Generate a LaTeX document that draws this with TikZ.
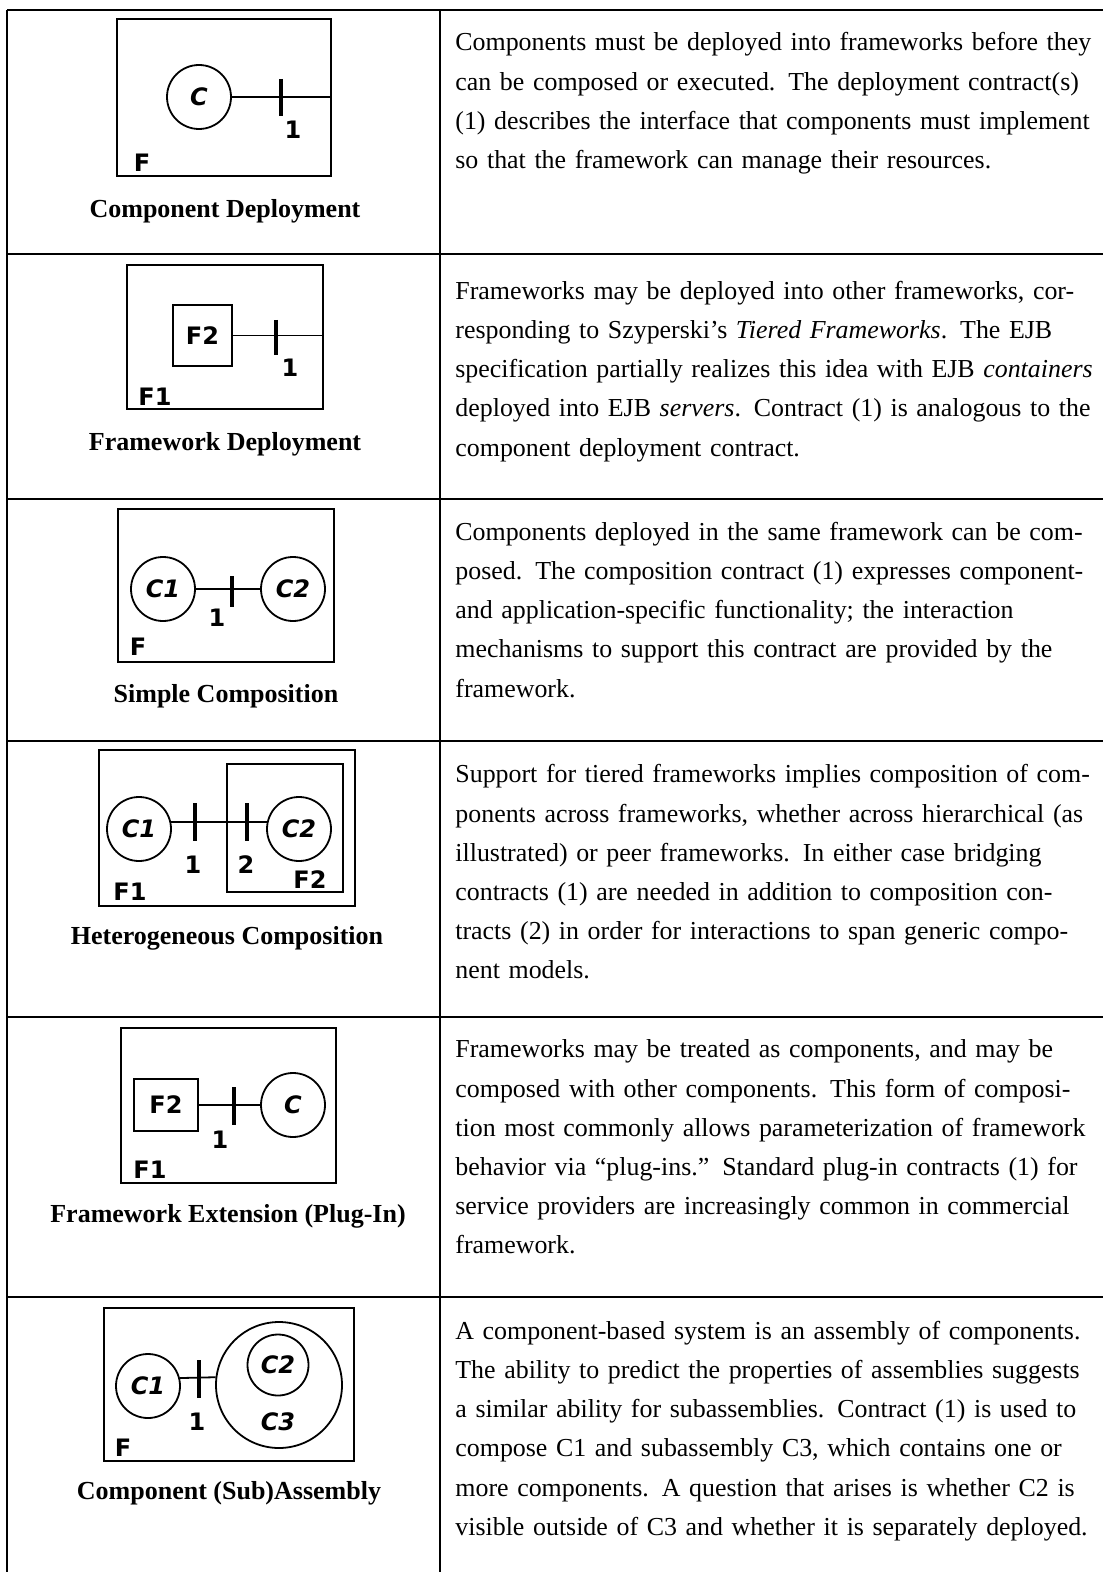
\documentclass[tikz,border=0pt]{standalone}
\usepackage{fontspec}
\setmainfont{Liberation Serif}
\newfontfamily\diagfont{DejaVu Sans}
\usetikzlibrary{calc}
\begin{document}
\begin{tikzpicture}[x=0.5pt,y=-0.5pt,
  tline/.style={line width=1pt},
  fwbox/.style={draw, line width=1pt, inner sep=0},
  comp/.style={circle, draw, line width=0.9pt, inner sep=0, minimum size=32pt,
    font=\diagfont\bfseries\itshape\fontsize{12}{12}\selectfont},
  lbl/.style={inner sep=0, font=\diagfont\bfseries\fontsize{12}{12}\selectfont},
  wire/.style={line width=0.9pt},
  contract/.style={line width=2pt},
  caption/.style={inner sep=0, font=\bfseries\fontsize{13}{15}\selectfont},
  desc/.style={anchor=north west, inner sep=0, align=left, text width=330pt,
    font=\fontsize{12.95}{19.6}\selectfont}]
\useasboundingbox (0,0) rectangle (1103,1572);

% ---------- table ----------
\draw[tline] (7,10) -- (1103,10);
\draw[tline] (7,10) -- (7,1572);
\draw[tline] (440,10) -- (440,1572);
\foreach \yy in {254,499,741,1017,1297}
  \draw[tline] (7,\yy) -- (1103,\yy);

% ---------- row 1: Component Deployment ----------
\node[fwbox, minimum width=107pt, minimum height=78.5pt] (fa) at (224,97.5) {};
\node[comp] (ca) at (199,97) {C};
\draw[wire] (ca.east) -- (ca.east -| fa.east);
\coordinate (ka) at (281,97);
\draw[contract] (ka) ++(0,-18) -- ++(0,37);
\node[lbl] (na) at (293,130) {1};
\node[lbl] (la) at (142,163) {F};
\node[caption] (cpa) at (225,211) {Component Deployment};
\node[desc] (da) at (455,23) {\strut Components must be deployed into frameworks before they\\
can be composed or executed. The deployment contract(s)\\
(1) describes the interface that components must implement\\
so that the framework can manage their resources.};

% ---------- row 2: Framework Deployment ----------
\node[fwbox, minimum width=98pt, minimum height=72pt] (fb) at (225,337) {};
\node[fwbox, minimum width=29.5pt, minimum height=30.5pt, font=\diagfont\bfseries\fontsize{12}{12}\selectfont] (fb2) at (202.5,335.5) {F2};
\draw[wire] (fb2.east) -- (fb2.east -| fb.east);
\coordinate (kb) at (276,337);
\draw[contract] (kb) ++(0,-17) -- ++(0,35);
\node[lbl] (nb) at (290,368) {1};
\node[lbl] (lb) at (155,397) {F1};
\node[caption] (cpb) at (225,444) {Framework Deployment};
\node[desc] (db) at (455,271.5) {\strut Frameworks may be deployed into other frameworks, cor-\\
responding to Szyperski’s \textit{Tiered Frameworks}.  The EJB\\
specification partially realizes this idea with EJB \textit{containers}\\
deployed into EJB \textit{servers}.  Contract (1) is analogous to the\\
component deployment contract.};

% ---------- row 3: Simple Composition ----------
\node[fwbox, minimum width=108pt, minimum height=76.5pt] (fc) at (226,585.5) {};
\node[comp] (cc1) at (163,589) {C1};
\node[comp] (cc2) at (293,589) {C2};
\draw[wire] (cc1.east) -- (cc2.west);
\coordinate (kc) at (232,589);
\draw[contract] (kc) ++(0,-13) -- ++(0,31);
\node[lbl] (nc) at (217,618) {1};
\node[lbl] (lc) at (138,647) {F};
\node[caption] (cpc) at (226,696) {Simple Composition};
\node[desc] (dc) at (455,512.5) {\strut Components deployed in the same framework can be com-\\
posed.  The composition contract (1) expresses component-\\
and application-specific functionality; the interaction\\
mechanisms to support this contract are provided by the\\
framework.};

% ---------- row 4: Heterogeneous Composition ----------
\node[fwbox, minimum width=128pt, minimum height=78pt] (fd) at (227,828) {};
\node[fwbox, minimum width=58pt, minimum height=64pt] (fd2) at (285,828) {};
\node[comp] (cd1) at (139,829) {C1};
\node[comp] (cd2) at (299,829) {C2};
\draw[wire] (cd1.13) -- (cd2.167);
\coordinate (kd1) at (195,822);
\coordinate (kd2) at (247,822);
\draw[contract] (kd1) ++(0,-19) -- ++(0,38);
\draw[contract] (kd2) ++(0,-19) -- ++(0,38);
\node[lbl] (nd1) at (193,865) {1};
\node[lbl] (nd2) at (246,865) {2};
\node[lbl] (ld2) at (310,880) {F2};
\node[lbl] (ld) at (130,892) {F1};
\node[caption] (cpd) at (227,938) {Heterogeneous Composition};
\node[desc] (dd) at (455,755) {\strut Support for tiered frameworks implies composition of com-\\
ponents across frameworks, whether across hierarchical (as\\
illustrated) or peer frameworks.  In either case bridging\\
contracts (1) are needed in addition to composition con-\\
tracts (2) in order for interactions to span generic compo-\\
nent models.};

% ---------- row 5: Framework Extension (Plug-In) ----------
\node[fwbox, minimum width=107.5pt, minimum height=77.5pt] (fe) at (228.5,1105.5) {};
\node[fwbox, minimum width=32pt, minimum height=26pt, font=\diagfont\bfseries\fontsize{12}{12}\selectfont] (fe2) at (166,1105) {F2};
\node[comp] (ce) at (293,1105) {C};
\draw[wire] (fe2.east) -- (ce.west);
\coordinate (ke) at (234,1105);
\draw[contract] (ke) ++(0,-18) -- ++(0,38);
\node[lbl] (ne) at (220,1140) {1};
\node[lbl] (le) at (150,1170) {F1};
\node[caption] (cpe) at (228,1216) {Framework Extension (Plug-In)};
\node[desc] (de) at (455,1030) {\strut Frameworks may be treated as components, and may be\\
composed with other components.  This form of composi-\\
tion most commonly allows parameterization of framework\\
behavior via “plug-ins.”  Standard plug-in contracts (1) for\\
service providers are increasingly common in commercial\\
framework.};

% ---------- row 6: Component (Sub)Assembly ----------
\node[fwbox, minimum width=125pt, minimum height=76.5pt] (ff) at (229,1384.5) {};
\node[comp] (cf1) at (148,1386) {C1};
\node[circle, draw, line width=0.9pt, inner sep=0, minimum size=63pt] (cf3) at (279,1385) {};
\node[comp, minimum size=30.5pt] (cf2) at (278,1365) {C2};
\node[lbl, font=\diagfont\bfseries\itshape\fontsize{12}{12}\selectfont] (tf3) at (278,1422) {C3};
\draw[wire] (cf1.14) -- (cf3.173.6);
\coordinate (kf) at (199,1378);
\draw[contract] (kf) ++(0,-18) -- ++(0,38);
\node[lbl] (nf) at (197,1422) {1};
\node[lbl] (lf) at (123,1448) {F};
\node[caption] (cpf) at (229,1493) {Component (Sub)Assembly};
\node[desc] (df) at (455,1311.5) {\strut A component-based system is an assembly of components.\\
The ability to predict the properties of assemblies suggests\\
a similar ability for subassemblies.  Contract (1) is used to\\
compose C1 and subassembly C3, which contains one or\\
more components. A question that arises is whether C2 is\\
visible outside of C3 and whether it is separately deployed.};
\end{tikzpicture}
\end{document}
